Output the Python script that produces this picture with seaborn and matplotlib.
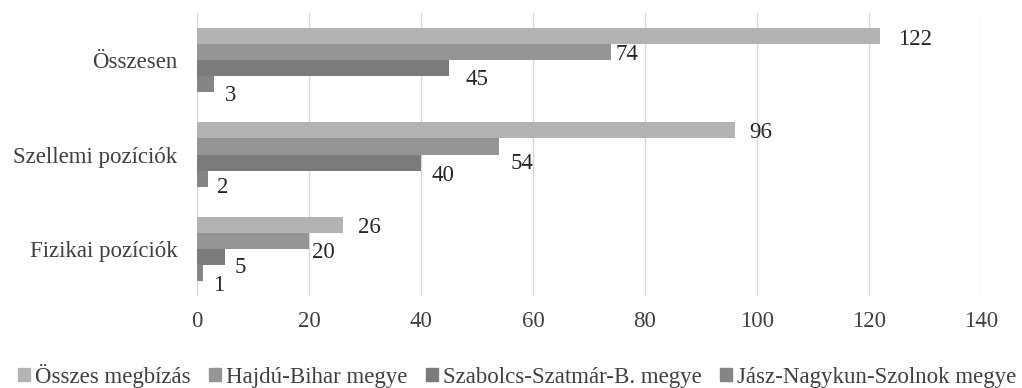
import pandas as pd
import matplotlib
matplotlib.use('Agg')
import matplotlib.pyplot as plt
import seaborn as sns

# adatok
categories = ['Összesen', 'Szellemi pozíciók', 'Fizikai pozíciók']
series = ['Összes megbízás', 'Hajdú-Bihar megye', 'Szabolcs-Szatmár-B. megye', 'Jász-Nagykun-Szolnok megye']
osszes = [122, 96, 26]
hajdu = [74, 54, 20]
szabolcs = [45, 40, 5]
jasz = [3, 2, 1]

colors = ['#b3b3b3', '#959595', '#7b7b7b', '#858585']
# címke eltolás (pixel: jobbra, lefelé)
label_offsets = [
    [(18, 3), (15, 2), (15, 3)],
    [(4, 2), (11, 17), (3, 12)],
    [(16, 11), (10, 13), (10, 11)],
    [(11, 11), (9, 9), (10, 13)],
]
FONT = ['Liberation Serif', 'DejaVu Serif']
FS = 16.5

rows = []
for name, vals in zip(series, [osszes, hajdu, szabolcs, jasz]):
    for cat, v in zip(categories, vals):
        rows.append({'cat': cat, 'series': name, 'value': v})
df = pd.DataFrame(rows)

sns.set_style('white')
plt.rcParams['font.family'] = FONT

fig = plt.figure(figsize=(10.22, 3.88), dpi=100)
ax = fig.add_axes([197 / 1022, 1 - 296 / 388, (981 - 197) / 1022, (296 - 13) / 388])

sns.barplot(data=df, x='value', y='cat', hue='series', order=categories,
            hue_order=series, palette=colors, orient='h', width=0.68,
            saturation=1, linewidth=0, ax=ax, legend=True)

for i, cont in enumerate(ax.containers):
    for j, bar in enumerate(cont):
        v = bar.get_width()
        yc = bar.get_y() + bar.get_height() / 2
        dx, dy = label_offsets[i][j]
        ax.annotate(f'{v:.0f}', xy=(v, yc), xytext=(dx, -dy),
                    textcoords='offset pixels', ha='left', va='center',
                    fontsize=FS, color='#262626', family=FONT)

ax.set_xlim(0, 140)
ax.set_ylim(2.5, -0.5)
ax.set_xticks(range(0, 141, 20))
ax.set_xlabel('')
ax.set_ylabel('')
ax.grid(axis='x', color='#d9d9d9', linewidth=1)
ax.set_axisbelow(True)
for s in ax.spines.values():
    s.set_visible(False)
ax.tick_params(axis='x', length=0, pad=11, labelsize=FS, labelcolor='#404040')
ax.tick_params(axis='y', length=0, pad=14, labelsize=FS, labelcolor='#404040')
for lab in ax.get_xticklabels() + ax.get_yticklabels():
    lab.set_fontfamily(FONT)

ax.legend_.remove()
handles = [plt.Rectangle((0, 0), 1, 1, color=c) for c in colors]
fig.legend(handles, series, loc='center left', bbox_to_anchor=(18 / 1022, 1 - 376 / 388),
           ncol=4, frameon=False, prop={'family': FONT, 'size': FS},
           handlelength=0.52, handleheight=0.5,
           handletextpad=0.22, columnspacing=0.8, borderaxespad=0, borderpad=0,
           labelcolor='#404040')

fig.savefig('out.png', dpi=100)
